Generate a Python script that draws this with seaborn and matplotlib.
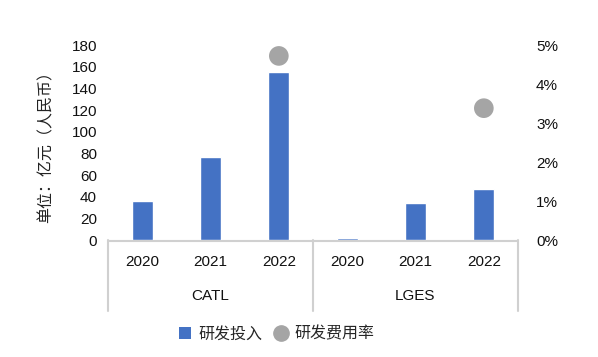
import matplotlib
matplotlib.use("Agg")
import matplotlib.pyplot as plt
import seaborn as sns
import pandas as pd
import numpy as np
from matplotlib.lines import Line2D
from matplotlib.patches import Patch

companies = ["CATL", "CATL", "CATL", "LGES", "LGES", "LGES"]
years = ["2020", "2021", "2022", "2020", "2021", "2022"]
rd_invest = [36, 77, 155, 2, 34, 47]
rd_rate = [np.nan, np.nan, 4.72, np.nan, np.nan, 3.38]
left_ticks = [0, 20, 40, 60, 80, 100, 120, 140, 160, 180]
right_ticks = [0, 1, 2, 3, 4, 5]
ylabel = "单位：亿元（人民币）"
legend_labels = ["研发投入", "研发费用率"]

sns.set_theme(style="white")
plt.rcParams['font.family'] = ['Liberation Sans', 'Noto Sans CJK SC', 'DejaVu Sans']

df = pd.DataFrame({"key": [f"{c}-{y}" for c, y in zip(companies, years)],
                   "company": companies, "year": years,
                   "invest": rd_invest, "rate": rd_rate})

fig = plt.figure(figsize=(5.98, 3.57), dpi=100)
ax = fig.add_axes([108/598, 1-240/357, (518-108)/598, (240-45)/357])
bar_color = "#4472C4"
dot_color = "#A5A5A5"
sns.barplot(data=df, x="key", y="invest", color=bar_color, width=0.31,
            saturation=1, ax=ax, zorder=3)
ax.set_ylim(0, 180)
ax.set_yticks(left_ticks)
ax.set_xlim(-0.5, 5.5)
ax.set_xticks([])
ax.set_xlabel("")
ax.set_ylabel(ylabel, family=['Noto Sans CJK SC'], fontsize=11.5, labelpad=12, color="#222222")
ax.tick_params(axis="y", length=0, labelsize=11, pad=8, colors="#111111")
for s in ax.spines.values():
    s.set_visible(False)

ax2 = ax.twinx()
sns.scatterplot(x=np.arange(6), y=df["rate"], color=dot_color, s=200,
                edgecolor="none", ax=ax2, legend=False)
ax2.set_ylim(0, 5)
ax2.set_yticks(right_ticks)
ax2.set_yticklabels([f"{t}%" for t in right_ticks])
ax2.set_ylabel("")
ax2.tick_params(axis="y", length=0, labelsize=11, pad=13, colors="#111111")
for s in ax2.spines.values():
    s.set_visible(False)
ax2.set_xlim(-0.5, 5.5)

# category table below axis
trans = ax.get_xaxis_transform()
grid_color = "#D0D0D0"
y_bottom = -(311-240)/195
for i, yr in enumerate(years):
    ax.text(i, -(262-240)/195, yr, transform=trans, ha="center", va="center",
            fontsize=11, color="#111111", clip_on=False)
for g, center in [("CATL", 1), ("LGES", 4)]:
    ax.text(center, -(296-240)/195, g, transform=trans, ha="center", va="center",
            fontsize=11, color="#111111", clip_on=False)
ax.add_line(Line2D([-0.5, 5.5], [-0.004, -0.004], transform=trans, color=grid_color, lw=1.5,
                   clip_on=False, zorder=1))
for xv in [-0.5, 2.5, 5.5]:
    ax.add_line(Line2D([xv, xv], [0, y_bottom], transform=trans, color=grid_color,
                       lw=1.5, clip_on=False, zorder=1))

handles = [Patch(facecolor=bar_color, edgecolor="none"),
           Line2D([], [], marker="o", ls="none", color=dot_color, markersize=11)]
fig.legend(handles, legend_labels, loc="center", bbox_to_anchor=(277/598, 1-334/357),
           ncol=2, frameon=False, handlelength=0.7, handletextpad=0.5, columnspacing=0.8,
           prop={"family": ["Noto Sans CJK SC"], "size": 11.5})

fig.savefig("out.png", dpi=100)
